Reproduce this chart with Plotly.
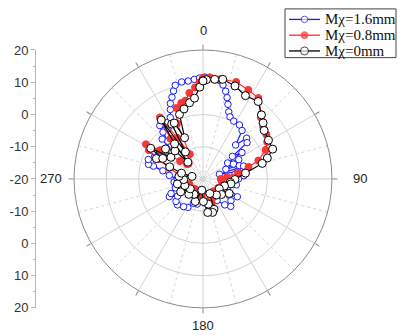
import plotly.graph_objects as go
import numpy as np

# ---------------- data (theta in degrees, r in dB) ----------------
blue_theta = [0, 1, 12, 14.5, 16.5, 18.5, 21, 23.5, 28, 34, 38.9, 43.9, 47, 50.5, 52.4, 55.9,
              57, 61.6, 64, 67.1, 70, 72.4, 74, 78, 82, 85.5, 90, 95, 100, 108, 117.4, 122,
              128, 134.7, 140, 147, 155, 165, 175, 185, 193, 201, 208, 215, 224.6, 230.2,
              236, 242.2, 245.5, 252, 258, 264, 270, 276, 281.4, 284.5, 285, 289.6, 294,
              298.9, 303, 306, 309.8, 312, 314.3, 317, 319.5, 321, 325, 328, 332, 334.8,
              336.6, 339.2, 341.5, 343.5, 347.6, 351.4, 355, 358, 360]
blue_r = [11.4, 11.6, 9.8, 8.1, 6.3, 4.4, 2.3, 1.0, 0.3, 0.2, -0.7, -5.4, -1.5, -2.3, -8.5, -5.4,
          -10.9, -7.4, -9.5, -12.3, -8.0, -6.8, -14.7, -9.0, -10.0, -7.3, -9.0, -11.0, -9.5, -12.0, -8.0, -10.4,
          -9.0, -7.9, -9.5, -12.0, -13.5, -13.0, -12.5, -14.0, -12.0, -11.9, -10.0, -9.5, -8.7, -9.1,
          -10.5, -8.2, -9.1, -11.0, -12.5, -11.0, -12.0, -9.5, -7.3, -4.1, -2.5, -2.0, -3.5,
          -2.4, -4.0, -6.5, -5.1, -7.0, -2.3, -4.0, -0.9, 1.3, -1.0, 0.7, 1.6, 3.8,
          5.5, 7.1, 8.8, 10.3, 10.8, 10.7, 11.0, 11.3, 11.4]

red_theta = [0, 3.8, 10, 18.9, 27, 34.4, 42, 43.3, 49.3, 55, 60, 65.1, 71.6, 75.3, 80, 85,
             90, 100, 110, 120, 130, 140, 150, 160, 167, 171, 180, 190, 200, 210, 220, 230,
             240, 250, 260, 270, 280, 288, 294, 298, 301.3, 304, 308, 312.6, 317, 321, 325,
             328, 332, 335, 339.6, 344, 347.4, 351, 355, 358, 360]
red_r = [11.3, 11.6, 11.5, 11.8, 11.0, 10.4, 7.0, 6.2, 4.6, 4.0, 3.0, 1.4, -1.9, -5.4, -9.0, -12.5,
         -14.5, -14.0, -13.0, -14.5, -14.0, -15.0, -13.5, -12.0, -10.5, -12.9, -15.5, -14.0, -15.0, -14.5, -16.0, -15.0,
         -14.5, -15.5, -14.0, -13.0, -12.5, -9.0, -5.0, -1.0, 0.7, -4.0, -11.0, -13.3, -13.5, -4.0, 3.3,
         -5.0, -11.3, -1.0, 3.5, 4.5, 4.9, 7.0, 8.5, 10.0, 11.3]

black_theta = [0, 2, 6.7, 11.2, 19, 27, 35.5, 42.4, 47, 51.6, 59.4, 66.8, 72, 75.3, 82.2, 91,
               97, 100, 108, 119, 121, 130, 140, 155, 160, 164, 168, 172, 179, 186, 199, 210,
               222.6, 232, 240, 250, 259, 268, 276, 283, 285, 290, 293.6, 297, 300.4, 304,
               308.7, 315, 318, 321, 324.7, 327, 330.3, 332.8, 336, 340, 344.8, 350, 354,
               358, 360]
black_r = [10.4, 10.8, 11.1, 11.5, 10.5, 9.0, 9.5, 6.9, 5.5, 4.2, 3.6, 3.5, 1.0, -1.0, -6.7, -10.1,
           -11.5, -11.2, -13.0, -10.7, -14.1, -12.5, -13.5, -15.0, -10.0, -9.2, -12.0, -9.5, -13.0, -16.5, -12.6, -14.5,
           -13.5, -15.0, -12.0, -14.0, -11.9, -14.0, -12.5, -16.5, -13.1, -9.0, -4.2, -6.0, -1.2, -8.0,
           -5.1, -7.7, -13.0, -6.0, 2.4, -10.0, -0.4, -0.5, -6.0, 1.3, 2.5, 4.0, 5.2,
           8.5, 10.4]

radial_range = [-20, 20]
radial_grid = [-10, 0, 10]
angular_major = list(range(0, 360, 30))
angular_labels = {0: "0", 90: "90", 180: "180", 270: "270"}
angular_minor = list(range(15, 360, 30))
left_scale_labels = ["20", "10", "0", "-10", "-20", "-10", "0", "10", "20"]

series = [
    ("Mχ=1.6mm", blue_theta, blue_r, "#1a1aff", "white", 6.5),
    ("Mχ=0.8mm", red_theta, red_r, "#ff3030", "#f23a3a", 7),
    ("Mχ=0mm", black_theta, black_r, "#000000", "white", 8),
]

# ---------------- geometry (pixels) ----------------
W, H = 397, 335
CX, CY, R = 203, 180, 135
px0, px1 = (CX - R) / W, (CX + R) / W
py0, py1 = (H - CY - R) / H, (H - CY + R) / H

fig = go.Figure()

# dotted minor angular grid
for a in angular_minor:
    fig.add_trace(go.Scatterpolar(theta=[a, a], r=radial_range, mode="lines",
                                  line=dict(color="#d6d6d6", width=1, dash="dot"),
                                  showlegend=False, hoverinfo="skip"))

for name, th, rr, col, fill, sz in series:
    fig.add_trace(go.Scatterpolar(
        theta=th, r=rr, mode="lines+markers", name=name, showlegend=False,
        line=dict(color=col, width=1.2),
        marker=dict(symbol="circle", size=sz, color=fill, line=dict(color=col, width=1)),
    ))

# invisible cartesian trace so the left scale axis is drawn
fig.add_trace(go.Scatter(x=[0], y=[0], mode="markers", marker=dict(opacity=0),
                         showlegend=False, hoverinfo="skip"))

# ---------------- legend box (pixel overlay axes) ----------------
LEG_X0, LEG_X1, LEG_Y0, LEG_Y1 = 285, 396, 2, 53
row_y = [13, 29.5, 46]
sample_x = [289, 304.5, 320]
annotations = []
for (name, th, rr, col, fill, sz), ry in zip(series, row_y):
    fig.add_trace(go.Scatter(
        x=sample_x, y=[ry] * 3, xaxis="x2", yaxis="y2", mode="lines+markers",
        line=dict(color=col, width=1.3),
        marker=dict(size=[0, sz, 0], color=fill, line=dict(color=col, width=1)),
        showlegend=False, hoverinfo="skip"))
    annotations.append(dict(x=323, y=ry, xref="x2", yref="y2", text=name, showarrow=False,
                            xanchor="left", yanchor="middle",
                            font=dict(family="Liberation Serif", size=15, color="#111")))

# angular labels placed outside the circle
label_offsets = {0: 20, 90: 22, 180: 18, 270: 17}
for a, txt in angular_labels.items():
    rad = np.deg2rad(a)
    d = R + label_offsets[a]
    x = CX + d * np.sin(rad)
    y = CY - d * np.cos(rad)
    annotations.append(dict(x=x / W, y=(H - y) / H, xref="paper", yref="paper",
                            text=txt, showarrow=False, xanchor="center", yanchor="middle",
                            font=dict(family="Liberation Sans", size=13, color="#222")))

n = len(left_scale_labels)
left_vals = list(np.linspace(2 * radial_range[1], -2 * radial_range[1], n))

fig.update_layout(
    width=W, height=H,
    margin=dict(l=0, r=0, t=0, b=0),
    paper_bgcolor="white",
    plot_bgcolor="rgba(0,0,0,0)",
    showlegend=False,
    annotations=annotations,
    shapes=[dict(type="rect", xref="x2", yref="y2", x0=LEG_X0, x1=LEG_X1, y0=LEG_Y0, y1=LEG_Y1,
                 line=dict(color="#444", width=1), fillcolor="white", layer="below")],
    polar=dict(
        domain=dict(x=[px0, px1], y=[py0, py1]),
        bgcolor="white",
        radialaxis=dict(range=radial_range, tickvals=radial_grid, showticklabels=False,
                        ticks="", showline=False, gridcolor="#d3d3d3", gridwidth=1),
        angularaxis=dict(rotation=90, direction="clockwise",
                         tickmode="array", tickvals=angular_major,
                         showticklabels=False,
                         ticks="outside", ticklen=5, tickcolor="#8a8a8a",
                         showline=True, linecolor="#8a8a8a", linewidth=1,
                         gridcolor="#d3d3d3", gridwidth=1),
    ),
    xaxis=dict(visible=False, domain=[0, 0.05], range=[-1, 1]),
    yaxis=dict(domain=[py0, py1], range=[-40, 40], anchor="free", position=35 / W,
               side="left", tickmode="array", tickvals=left_vals, ticktext=left_scale_labels,
               showline=True, linecolor="#b5b5b5", linewidth=1,
               ticks="outside", ticklen=4, tickcolor="#b5b5b5",
               minor=dict(ticks="outside", ticklen=2, dtick=5, tickcolor="#b5b5b5"),
               showgrid=False, zeroline=False, fixedrange=True,
               tickfont=dict(family="Liberation Sans", size=13, color="#333")),
    xaxis2=dict(visible=False, domain=[0, 1], range=[0, W], anchor="y2", fixedrange=True),
    yaxis2=dict(visible=False, domain=[0, 1], range=[H, 0], anchor="x2", fixedrange=True),
)

fig.write_html("out.html")
